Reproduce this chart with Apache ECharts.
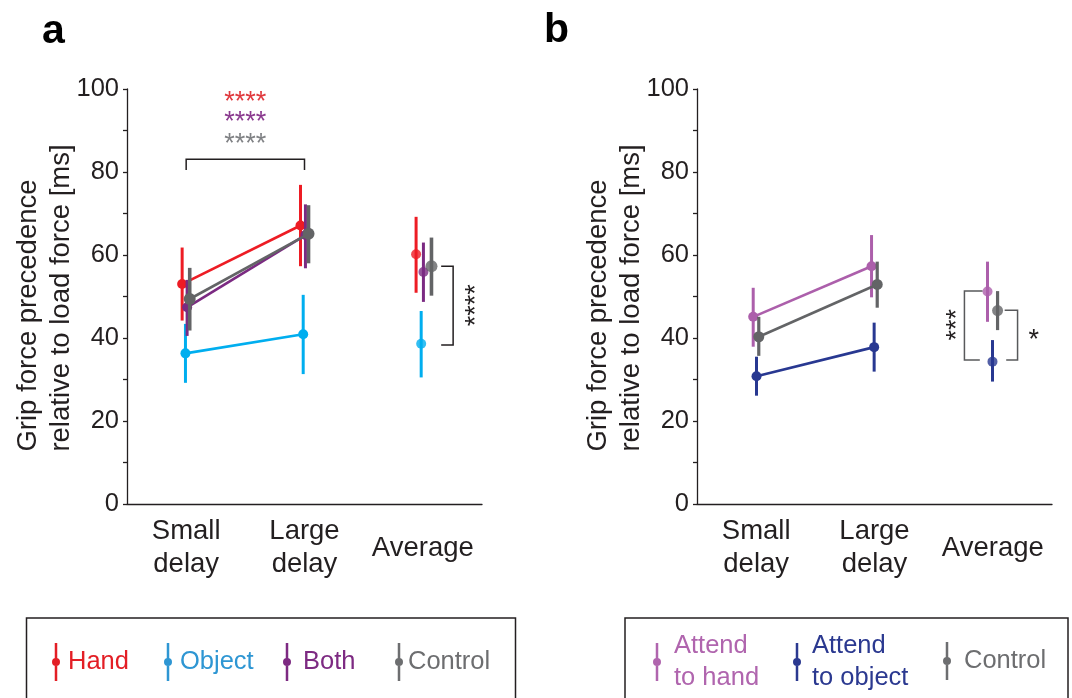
<!DOCTYPE html>
<html><head><meta charset="utf-8">
<script src="https://cdn.jsdelivr.net/npm/echarts@6/dist/echarts.min.js"></script>
<style>html,body{margin:0;padding:0;background:#fff}#c{width:1072px;height:698px}</style>
</head><body><div id="c"></div>
<script>
// ---------- data ----------
const categories = ['Small\ndelay', 'Large\ndelay', 'Average'];
const yTicks = [0, 20, 40, 60, 80, 100];
const yTitle = ['Grip force precedence', 'relative to load force [ms]'];

// panel a
const handMean = [53.0, 67.1, 60.2];
const handLow = [44.2, 57.3, 50.9];
const handHigh = [61.8, 76.9, 69.2];
const objectMean = [36.3, 40.9, 38.6];
const objectLow = [29.2, 31.3, 30.5];
const objectHigh = [43.4, 50.4, 46.5];
const bothMean = [47.4, 64.8, 55.9];
const bothLow = [40.5, 56.8, 48.7];
const bothHigh = [54.0, 72.2, 63.0];
const controlAMean = [49.4, 65.1, 57.3];
const controlALow = [41.8, 58.0, 50.2];
const controlAHigh = [56.9, 72.0, 64.2];

// panel b
const attHandMean = [45.1, 57.3, 51.2];
const attHandLow = [37.9, 49.8, 43.9];
const attHandHigh = [52.1, 64.8, 58.4];
const attObjMean = [30.8, 37.8, 34.3];
const attObjLow = [26.1, 31.9, 29.5];
const attObjHigh = [35.5, 43.7, 39.5];
const controlBMean = [40.3, 52.9, 46.6];
const controlBLow = [35.7, 47.3, 41.9];
const controlBHigh = [45.1, 58.4, 51.3];

// ---------- styling ----------
const F = '"Liberation Sans", Arial, Helvetica, sans-serif';
const ink = '#231f20';
const iconPath = 'path://M2.75,0L5.25,0L5.25,38L2.75,38Z M0,19A4,4,0,1,1,8,19A4,4,0,1,1,0,19Z';

function xCat(gridIndex) {
  return {
    type: 'category', gridIndex, data: categories, boundaryGap: true,
    axisLine: { lineStyle: { color: ink, width: 1.3 } },
    axisTick: { alignWithLabel: true, length: 4, lineStyle: { color: ink, width: 1.3 } },
    axisLabel: { fontFamily: F, fontSize: 27.5, lineHeight: 33, color: ink, margin: 44, verticalAlign: 'middle', interval: 0 },
    splitLine: { show: false }
  };
}
function xVal(gridIndex) {
  return { type: 'value', gridIndex, min: -0.5, max: 2.5, show: false, axisLine: { onZero: false } };
}
function yAx(gridIndex) {
  return {
    type: 'value', gridIndex, min: yTicks[0], max: yTicks[yTicks.length - 1], interval: yTicks[1] - yTicks[0],
    axisLine: { show: true, onZero: false, lineStyle: { color: ink, width: 1.3 } },
    axisTick: { show: true, length: 4, lineStyle: { color: ink, width: 1.3 } },
    minorTick: { show: true, splitNumber: 2, length: 4, lineStyle: { color: ink, width: 1.3 } },
    splitLine: { show: false },
    axisLabel: { fontFamily: F, fontSize: 25.5, color: ink, margin: 8 }
  };
}
function yTitleText(cx, cy) {
  const ts = { fontFamily: F, fontSize: 27.5, lineHeight: 33, fill: ink };
  return {
    type: 'text', x: cx, y: cy, rotation: Math.PI / 2, silent: true,
    style: {
      text: '{l1|' + yTitle[0] + '}\n{l2|' + yTitle[1] + '}',
      align: 'center', verticalAlign: 'middle', fontFamily: F, fontSize: 27.5, lineHeight: 33, fill: ink,
      rich: { l1: Object.assign({}, ts, { padding: [0, 35, 0, 0] }), l2: Object.assign({}, ts) }
    }
  };
}

function group(name, g, mean, low, high, offs, color, z, opt) {
  opt = opt || {};
  const xi = g * 2 + 1, yi = g;
  const pts = [0, 1].map(i => [i + offs[i], mean[i]]);
  return [
    {
      type: 'custom', name, xAxisIndex: xi, yAxisIndex: yi, z, silent: true,
      data: mean.map((m, i) => [i + offs[i], low[i], high[i]]),
      encode: { x: 0, y: [1, 2] },
      renderItem: (params, api) => {
        const a = api.coord([api.value(0), api.value(1)]);
        const b = api.coord([api.value(0), api.value(2)]);
        return { type: 'line', shape: { x1: a[0], y1: a[1], x2: b[0], y2: b[1] },
          style: { stroke: color, lineWidth: opt.ebw || 3 } };
      },
      itemStyle: { color }
    },
    {
      type: 'line', name, xAxisIndex: xi, yAxisIndex: yi, z: z + 0.1, silent: true,
      data: pts, symbol: 'circle', symbolSize: opt.sym || 10, showSymbol: true,
      lineStyle: { color, width: 2.6 }, itemStyle: { color }
    },
    {
      type: 'scatter', name, xAxisIndex: xi, yAxisIndex: yi, z: z + 0.1, silent: true,
      data: [[2 + offs[2], mean[2]]], symbol: 'circle', symbolSize: opt.sym || 10,
      itemStyle: { color }
    }
  ];
}

// annotations (brackets and significance stars) in data units
const annotA = [
  { type: 'bracket', pts: [[0, 80.5], [0, 83.1], [1, 83.1], [1, 80.5]], color: ink },
  { type: 'bracket', pts: [[2.155, 57.3], [2.256, 57.3], [2.256, 38.3], [2.155, 38.3]], color: ink },
  { type: 'text', text: '****', at: [0.5, 96.8], color: '#e0393e' },
  { type: 'text', text: '****', at: [0.5, 91.8], color: '#8b3a8f' },
  { type: 'text', text: '****', at: [0.5, 86.5], color: '#808285' },
  { type: 'text', text: '****', at: [2.45, 47.9], color: ink, rot: Math.PI / 2 }
];
const annotB = [
  { type: 'bracket', pts: [[1.913, 51.3], [1.76, 51.3], [1.76, 34.7], [1.89, 34.7]], color: '#58595b' },
  { type: 'bracket', pts: [[2.1, 46.7], [2.209, 46.7], [2.209, 34.7], [2.113, 34.7]], color: '#58595b' },
  { type: 'text', text: '***', at: [1.7, 43.2], color: ink, rot: Math.PI / 2 },
  { type: 'text', text: '*', at: [2.345, 39.3], color: ink }
];
function annotSeries(list, g) {
  return {
    type: 'custom', xAxisIndex: g * 2 + 1, yAxisIndex: g, z: 20, silent: true,
    data: list.map(a => a.type === 'bracket' ? a.pts[0] : a.at),
    encode: { x: 0, y: 1 },
    renderItem: (params, api) => {
      const a = list[params.dataIndex];
      if (a.type === 'bracket') {
        return { type: 'polyline', shape: { points: a.pts.map(p => api.coord(p)) },
          style: { stroke: a.color, lineWidth: 1.5, fill: null } };
      }
      const p = api.coord(a.at);
      return { type: 'text', x: p[0], y: p[1], rotation: a.rot || 0,
        style: { text: a.text, fill: a.color, fontSize: 27, fontFamily: F, align: 'center', verticalAlign: 'middle' } };
    }
  };
}

function leg(name, left, top, color, pad, padTop) {
  return {
    data: [{ name, itemStyle: { color }, textStyle: { color } }],
    left, top, padding: 0, orient: 'horizontal',
    icon: iconPath, itemWidth: 8, itemHeight: 38, selectedMode: false,
    textStyle: { fontFamily: F, fontSize: 25.5, lineHeight: 32, padding: [padTop || 0, 0, 0, pad] }
  };
}

const series = [].concat(
  group('Object', 0, objectMean, objectLow, objectHigh, [-0.006, -0.011, -0.014], '#00aeef', 2),
  group('Hand', 0, handMean, handLow, handHigh, [-0.034, -0.034, -0.057], '#ed1c24', 3),
  group('Both', 0, bothMean, bothLow, bothHigh, [0.008, 0.008, 0.005], '#7b2a82', 4),
  group('Control', 0, controlAMean, controlALow, controlAHigh, [0.03, 0.034, 0.073], '#636466', 5, { sym: 12, ebw: 3.6 }),
  group('Attend\nto hand', 1, attHandMean, attHandLow, attHandHigh, [-0.025, -0.025, -0.045], '#ac5fab', 2),
  group('Attend\nto object', 1, attObjMean, attObjLow, attObjHigh, [0.003, -0.003, -0.003], '#283891', 3),
  group('Control ', 1, controlBMean, controlBLow, controlBHigh, [0.022, 0.023, 0.04], '#636466', 4, { sym: 11, ebw: 3.2 }),
  [annotSeries(annotA, 0), annotSeries(annotB, 1)]
);

const option = {
  animation: false,
  backgroundColor: '#fff',
  grid: [
    { left: 127, top: 89, width: 355, height: 415 },
    { left: 697, top: 89, width: 355, height: 415 }
  ],
  xAxis: [xCat(0), xVal(0), xCat(1), xVal(1)],
  yAxis: [yAx(0), yAx(1)],
  legend: [
    leg('Hand', 52, 642, '#e31e25', 3, 8),
    leg('Object', 164, 642, '#2e96d3', 3, 8),
    leg('Both', 283, 642, '#7d2a82', 7, 8),
    leg('Control', 395, 642, '#6d6e70', 0, 8),
    leg('Attend\nto hand', 653, 630, '#b065ae', 8),
    leg('Attend\nto object', 793, 630, '#2b3990', 6),
    leg('Control ', 943, 642, '#6d6e70', 8, 2)
  ],
  graphic: [
    { type: 'text', left: 42, top: 11, style: { text: 'a', fontSize: 41, fontWeight: 'bold', fontFamily: F, fill: '#000' } },
    { type: 'text', left: 544, top: 10, style: { text: 'b', fontSize: 41, fontWeight: 'bold', fontFamily: F, fill: '#000' } },
    yTitleText(45, 298),
    yTitleText(615, 298),
    { type: 'rect', shape: { x: 26.5, y: 618, width: 489, height: 120 }, style: { fill: 'none', stroke: ink, lineWidth: 1.5 }, silent: true },
    { type: 'rect', shape: { x: 625, y: 618, width: 443, height: 120 }, style: { fill: 'none', stroke: ink, lineWidth: 1.5 }, silent: true }
  ],
  series
};
const chart = echarts.init(document.getElementById('c'), null, { renderer: 'canvas' });
chart.setOption(option);
</script></body></html>
